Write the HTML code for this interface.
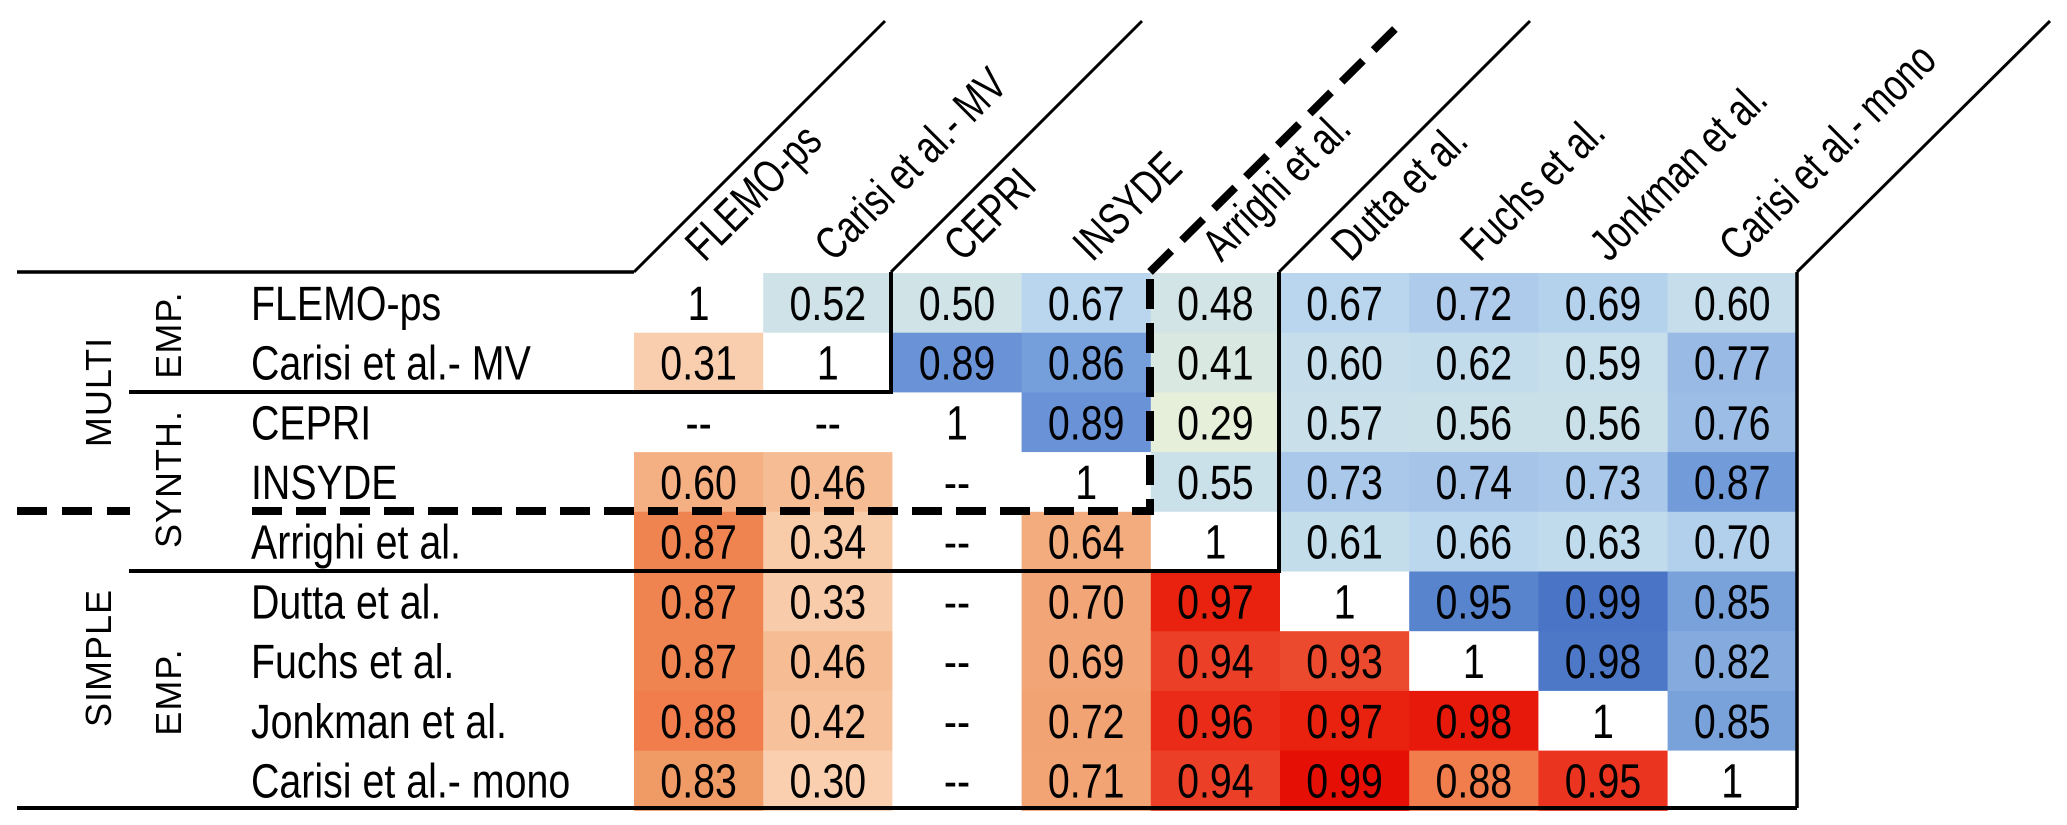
<!DOCTYPE html>
<html><head><meta charset="utf-8"><style>
html,body{margin:0;padding:0;background:#fff;}
svg{display:block;font-family:"Liberation Sans",Arial,sans-serif;}
</style></head><body>
<svg id="chart" width="2067" height="825" viewBox="0 0 2067 825" xmlns="http://www.w3.org/2000/svg">
<g id="cells"></g>
<g id="lines" stroke="#000" fill="none">
  <line x1="17" y1="272" x2="634" y2="272" stroke-width="3.5"/>
  <line x1="634" y1="272" x2="885" y2="21" stroke-width="3"/>
  <line x1="891" y1="272" x2="1142" y2="21" stroke-width="3"/>
  <line x1="1279" y1="272" x2="1530" y2="21" stroke-width="3"/>
  <line x1="1797" y1="272" x2="2050" y2="21" stroke-width="3"/>
  <line x1="1797" y1="272" x2="1797" y2="808" stroke-width="3.5"/>
  <line x1="1150" y1="272" x2="1404" y2="20" stroke-width="8" stroke-dasharray="30 15"/>
  <line x1="17" y1="808" x2="1797" y2="808" stroke-width="4"/>
  <polyline points="129,392 891,392 891,272" stroke-width="4"/>
  <polyline points="129,571 1279,571 1279,272" stroke-width="4"/>
  <polyline points="17,511 130,511" stroke-width="8" stroke-dasharray="30 15"/>
  <polyline points="252,511 1150,511 1150,272" stroke-width="8" stroke-dasharray="30 14"/>
</g>
<g id="labels" fill="#000"></g>
</svg>
<script>
const categories = ["FLEMO-ps","Carisi et al.- MV","CEPRI","INSYDE","Arrighi et al.","Dutta et al.","Fuchs et al.","Jonkman et al.","Carisi et al.- mono"];
const row0 = [1,0.52,0.50,0.67,0.48,0.67,0.72,0.69,0.60];
const row1 = [0.31,1,0.89,0.86,0.41,0.60,0.62,0.59,0.77];
const row2 = [null,null,1,0.89,0.29,0.57,0.56,0.56,0.76];
const row3 = [0.60,0.46,null,1,0.55,0.73,0.74,0.73,0.87];
const row4 = [0.87,0.34,null,0.64,1,0.61,0.66,0.63,0.70];
const row5 = [0.87,0.33,null,0.70,0.97,1,0.95,0.99,0.85];
const row6 = [0.87,0.46,null,0.69,0.94,0.93,1,0.98,0.82];
const row7 = [0.88,0.42,null,0.72,0.96,0.97,0.98,1,0.85];
const row8 = [0.83,0.30,null,0.71,0.94,0.99,0.88,0.95,1];
const values = [row0,row1,row2,row3,row4,row5,row6,row7,row8];

const NS="http://www.w3.org/2000/svg";
const x0=634, cw=129.2, y0=273, rh=59.7;
const FS=48, SX=0.82;
function xPos(i){return x0+i*cw;}
function yPos(j){return y0+j*rh;}
function hex(c){return [1,3,5].map(k=>parseInt(c.substr(k,2),16));}
function interp(stops,v){
  if(v<=stops[0][0]) return stops[0][1];
  for(let k=1;k<stops.length;k++){
    if(v<=stops[k][0]){
      const a=stops[k-1],b=stops[k];const t=(v-a[0])/(b[0]-a[0]);
      const ca=hex(a[1]),cb=hex(b[1]);
      return "rgb("+ca.map((c,m)=>Math.round(c+(cb[m]-c)*t)).join(",")+")";
    }
  }
  return stops[stops.length-1][1];
}
const upperStops=[[0.29,"#e6efd9"],[0.41,"#d9e8e0"],[0.50,"#d0e3e6"],[0.60,"#c6deeb"],[0.67,"#b9d6ee"],[0.72,"#aecbeb"],[0.77,"#98bae4"],[0.86,"#759fda"],[0.89,"#6a92d6"],[0.95,"#5784cd"],[0.99,"#4a74c5"]];
const lowerStops=[[0.30,"#f9cfb0"],[0.46,"#f6bd94"],[0.60,"#f4b083"],[0.70,"#f2a576"],[0.83,"#f09a66"],[0.87,"#ef8450"],[0.88,"#f07d4b"],[0.93,"#ec4a2f"],[0.95,"#ea3420"],[0.97,"#e8220f"],[0.99,"#e60f06"]];

const cells=document.getElementById('cells');
const labels=document.getElementById('labels');
for(let r=0;r<values.length;r++){
  for(let c=0;c<values[r].length;c++){
    const v=values[r][c];
    let txt, fill="#fff";
    if(v===null){txt="--";}
    else if(r===c){txt="1";}
    else{ txt=v.toFixed(2); fill = c>r ? interp(upperStops,v) : interp(lowerStops,v); }
    const rect=document.createElementNS(NS,'rect');
    
    
    rect.setAttribute('x',xPos(c));rect.setAttribute('y',yPos(r));
    rect.setAttribute('width',cw+0.6);rect.setAttribute('height',rh+0.6);
    rect.setAttribute('fill',fill);
    cells.appendChild(rect);
    const t=document.createElementNS(NS,'text');
    
    
    t.setAttribute('transform','translate('+(xPos(c)+cw/2)+','+(yPos(r)+rh/2+17)+') scale('+SX+',1)');
    t.setAttribute('text-anchor','middle');t.setAttribute('font-size',FS);
    t.textContent=txt;
    cells.appendChild(t);
  }
}
for(let r=0;r<categories.length;r++){
  const t=document.createElementNS(NS,'text');
  
  
  t.setAttribute('transform','translate(251,'+(yPos(r)+rh/2+17)+') scale('+SX+',1)');
  t.setAttribute('font-size',FS);
  t.textContent=categories[r];
  labels.appendChild(t);
}
for(let c=0;c<categories.length;c++){
  const t=document.createElementNS(NS,'text');
  
  
  t.setAttribute('transform','translate('+(xPos(c)+cw/2+6)+',263) rotate(-45) scale(0.76,1)');
  t.setAttribute('font-size','46');
  t.textContent=categories[c];
  labels.appendChild(t);
}
const groups=[["MULTI",111,392],["SIMPLE",111,658],["EMP.",181,335],["SYNTH.",181,479],["EMP.",181,692]];
for(const g of groups){
  const t=document.createElementNS(NS,'text');
  
  
  t.setAttribute('transform','translate('+g[1]+','+g[2]+') rotate(-90)');
  t.setAttribute('text-anchor','middle');t.setAttribute('font-size','36');
  t.setAttribute('letter-spacing','1');
  t.textContent=g[0];
  labels.appendChild(t);
}
</script>
</body></html>
